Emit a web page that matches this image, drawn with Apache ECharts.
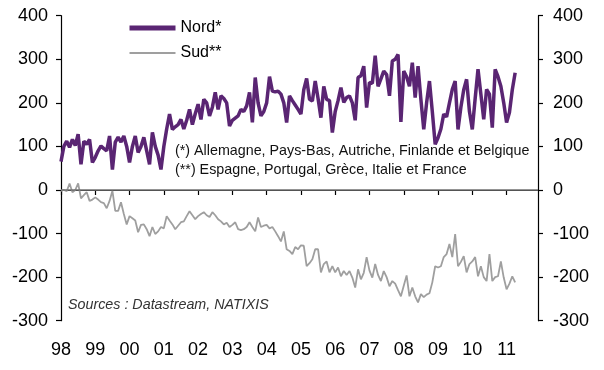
<!DOCTYPE html>
<html>
<head>
<meta charset="utf-8">
<script src="https://cdn.jsdelivr.net/npm/echarts@6/dist/echarts.min.js"></script>
<style>html,body{margin:0;padding:0;background:#fff}#c{width:604px;height:370px}</style>
</head>
<body>
<div id="c"></div>
<script>
// Monthly categories Jan 1998 - Dec 2011
const months = [];
for (let y = 1998; y <= 2011; y++) for (let m = 1; m <= 12; m++) months.push(y + '-' + (m < 10 ? '0' + m : m));

const nord = [65,100,112,98,116,102,128,59,112,105,116,63,75,90,101,95,90,124,47,110,121,110,124,100,63,100,124,86,100,121,90,59,132,100,80,47,100,140,174,139,145,150,162,140,160,185,150,175,197,162,208,200,170,190,224,185,216,210,200,147,160,165,170,185,180,193,224,155,258,200,170,180,200,260,227,225,227,220,200,155,216,205,195,185,174,230,256,208,204,250,210,166,238,208,205,132,180,205,235,201,212,216,200,160,258,262,284,189,247,245,308,238,255,273,265,216,296,300,311,156,273,260,238,292,212,284,208,139,200,250,180,105,120,140,174,168,200,231,250,139,190,230,254,180,139,210,277,220,162,231,220,143,277,260,238,200,155,178,230,269];

const sud = [-2,0,-3,15,-5,0,15,-19,-12,-5,-25,-22,-17,-22,-28,-30,-42,-25,-2,-48,-48,-28,-55,-79,-60,-65,-70,-97,-80,-79,-90,-106,-85,-101,-95,-85,-88,-60,-70,-79,-90,-82,-74,-72,-60,-49,-58,-67,-60,-55,-51,-58,-62,-51,-58,-67,-72,-79,-75,-85,-80,-74,-90,-92,-90,-85,-74,-85,-95,-63,-85,-82,-80,-88,-85,-95,-106,-118,-95,-136,-140,-147,-131,-136,-127,-128,-175,-168,-159,-136,-136,-189,-170,-164,-189,-175,-189,-178,-198,-186,-195,-186,-201,-224,-182,-205,-190,-154,-185,-201,-170,-195,-209,-186,-200,-221,-209,-215,-230,-244,-220,-196,-244,-224,-244,-258,-239,-246,-240,-237,-212,-175,-178,-175,-154,-147,-124,-154,-101,-175,-165,-152,-189,-170,-164,-154,-198,-175,-200,-209,-147,-209,-200,-198,-164,-201,-228,-215,-198,-212];

const yTicks = [-300,-200,-100,0,100,200,300,400];
const seriesNames = ['Nord*', 'Sud**'];
const noteLines = ['(*) Allemagne, Pays-Bas, Autriche, Finlande et Belgique', '(**) Espagne, Portugal, Grèce, Italie et France'];
const sourceText = 'Sources : Datastream, NATIXIS';

const NORD_COLOR = '#5a2573';
const SUD_COLOR = '#9f9f9f';
const FONT = "'Liberation Sans', Arial, sans-serif";
const chart = echarts.init(document.getElementById('c'));
const yAxisBase = {
  type: 'value', min: yTicks[0], max: yTicks[yTicks.length - 1], interval: 100,
  splitLine: {show: false},
  axisLine: {show: true, lineStyle: {color: '#000', width: 1.2}},
  axisTick: {show: true, length: 5, lineStyle: {color: '#000', width: 1.2}},
  axisLabel: {color: '#000', fontFamily: FONT, fontSize: 18, margin: 13}
};
chart.setOption({
  animation: false,
  grid: {left: 61, right: 66, top: 15.7, bottom: 49.3, containLabel: false},
  legend: {
    orient: 'vertical', left: 122, top: 15, itemWidth: 46, itemHeight: 14, itemGap: 9,
    textStyle: {fontFamily: FONT, fontSize: 16, color: '#000'},
    itemStyle: {opacity: 0},
    data: [
      {name: seriesNames[0], lineStyle: {color: NORD_COLOR, width: 5}},
      {name: seriesNames[1], lineStyle: {color: SUD_COLOR, width: 2.2}}
    ]
  },
  xAxis: {
    type: 'category', data: months, boundaryGap: false,
    axisLine: {lineStyle: {color: '#000', width: 1.2}},
    axisTick: {interval: (i) => i % 12 === 0, length: 5, lineStyle: {color: '#000', width: 1.2}},
    axisLabel: {interval: (i) => i % 12 === 0, formatter: (v) => v.slice(2, 4), color: '#000', fontFamily: FONT, fontSize: 18, margin: 20}
  },
  yAxis: [
    Object.assign({}, yAxisBase, {position: 'left'}),
    Object.assign({}, yAxisBase, {position: 'right', axisLabel: Object.assign({}, yAxisBase.axisLabel, {margin: 15})})
  ],
  series: [
    {
      name: seriesNames[1], type: 'line', data: sud, symbol: 'none',
      lineStyle: {color: SUD_COLOR, width: 1.8}, itemStyle: {color: SUD_COLOR},
      markLine: {silent: true, symbol: 'none', label: {show: false},
        lineStyle: {color: '#707070', width: 1.5, type: 'solid'}, data: [{yAxis: 0}]}
    },
    {
      name: seriesNames[0], type: 'line', data: nord, symbol: 'none',
      lineStyle: {color: NORD_COLOR, width: 3.5}, itemStyle: {color: NORD_COLOR}
    }
  ],
  graphic: [
    {type: 'text', left: 175, top: 144, style: {text: noteLines[0], font: '14.3px ' + FONT, fill: '#111'}},
    {type: 'text', left: 175, top: 163, style: {text: noteLines[1], font: '14.3px ' + FONT, fill: '#111'}},
    {type: 'text', left: 68, top: 298, style: {text: sourceText, font: 'italic 14.3px ' + FONT, fill: '#333'}}
  ]
});
</script>
</body>
</html>
